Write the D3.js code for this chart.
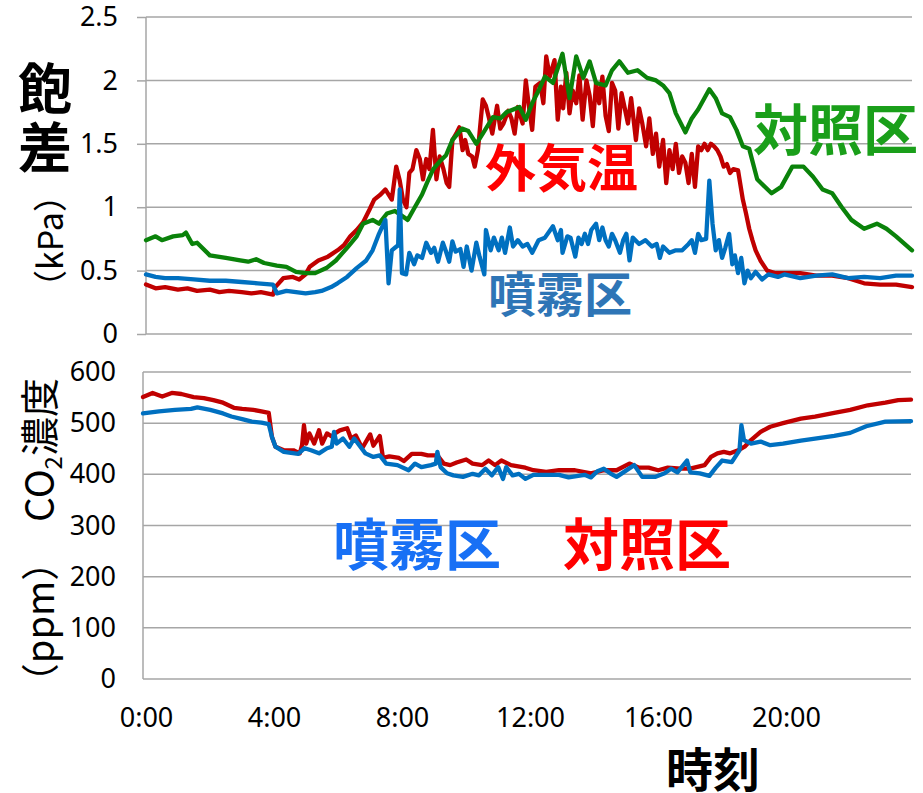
<!DOCTYPE html>
<html>
<head>
<meta charset="utf-8">
<script src="https://cdn.jsdelivr.net/npm/d3@7"></script>
<style>
  body { margin: 0; background: #fff; }
  svg { display: block; }
  .tick text { font-family: 'Noto Sans', sans-serif; fill: #000; }
  .jp { font-family: 'Noto Sans CJK JP', sans-serif; }
</style>
</head>
<body>
<svg id="chart" width="923" height="793"></svg>
<script>
// --- data (hours, value) ---
const xTickHours = [0, 4, 8, 12, 16, 20];
const vpdTicks = [0, 0.5, 1, 1.5, 2, 2.5];
const co2Ticks = [0, 100, 200, 300, 400, 500, 600];

// 対照区 (green) VPD
const vpdCtrlHours = [0, 0.3, 0.5, 0.85, 1.15, 1.25, 1.45, 1.6, 2.0, 2.5, 2.95, 3.2, 3.45, 3.7, 4.1, 4.4, 4.7, 5.0, 5.3, 5.65, 5.95, 6.3, 6.6, 6.8, 7.1, 7.3, 7.55, 7.8, 8.2, 8.4, 8.65, 8.8, 9.0, 9.2, 9.4, 9.6, 9.9, 10.1, 10.35, 10.6, 10.87, 11.1, 11.3, 11.7, 11.9, 12.1, 12.3, 12.5, 12.75, 13.05, 13.27, 13.48, 13.7, 13.9, 14.1, 14.4, 14.6, 14.83, 15.1, 15.4, 15.7, 15.98, 16.2, 16.4, 16.6, 16.9, 17.1, 17.3, 17.65, 17.85, 18.05, 18.3, 18.5, 18.7, 18.9, 19.15, 19.6, 19.9, 20.25, 20.6, 20.9, 21.2, 21.5, 21.8, 22.1, 22.5, 22.9, 23.2, 23.5, 24.0];
const vpdCtrl = [0.74, 0.77, 0.74, 0.77, 0.78, 0.80, 0.71, 0.72, 0.62, 0.60, 0.58, 0.57, 0.59, 0.56, 0.54, 0.53, 0.49, 0.48, 0.48, 0.52, 0.58, 0.68, 0.77, 0.87, 0.90, 0.87, 0.95, 0.97, 0.90, 0.99, 1.10, 1.19, 1.30, 1.36, 1.41, 1.53, 1.62, 1.60, 1.50, 1.60, 1.71, 1.70, 1.75, 1.79, 1.69, 1.82, 1.92, 2.03, 1.98, 2.21, 1.86, 2.19, 2.02, 2.15, 1.98, 1.96, 2.08, 2.15, 2.06, 2.08, 2.02, 2.00, 1.96, 1.90, 1.74, 1.59, 1.70, 1.77, 1.93, 1.86, 1.74, 1.71, 1.61, 1.48, 1.46, 1.22, 1.11, 1.16, 1.32, 1.32, 1.24, 1.14, 1.11, 1.00, 0.90, 0.83, 0.87, 0.83, 0.77, 0.66];

// 外気温 (red) VPD
const vpdOutHours = [0, 0.3, 0.6, 1.0, 1.3, 1.6, 2.0, 2.3, 2.6, 3.0, 3.3, 3.6, 3.98, 4.05, 4.3, 4.6, 4.8, 5.0, 5.13, 5.4, 5.7, 6.0, 6.2, 6.4, 6.6, 6.8, 7.0, 7.15, 7.35, 7.5, 7.7, 7.84, 7.95, 8.05, 8.16, 8.25, 8.35, 8.47, 8.58, 8.68, 8.78, 8.88, 8.99, 9.1, 9.2, 9.32, 9.42, 9.5, 9.6, 9.72, 9.82, 9.92, 10.0, 10.1, 10.22, 10.3, 10.4, 10.55, 10.65, 10.75, 10.85, 11.0, 11.1, 11.2, 11.35, 11.45, 11.55, 11.65, 11.8, 11.9, 12.0, 12.1, 12.2, 12.35, 12.45, 12.54, 12.65, 12.8, 12.9, 13.0, 13.07, 13.17, 13.27, 13.37, 13.48, 13.58, 13.68, 13.8, 13.9, 14.0, 14.1, 14.2, 14.3, 14.4, 14.5, 14.6, 14.7, 14.8, 14.9, 15.0, 15.1, 15.2, 15.35, 15.45, 15.55, 15.67, 15.77, 15.88, 15.98, 16.08, 16.2, 16.3, 16.4, 16.5, 16.6, 16.7, 16.8, 16.9, 17.0, 17.1, 17.2, 17.3, 17.4, 17.5, 17.6, 17.7, 17.8, 17.9, 18.0, 18.1, 18.2, 18.3, 18.4, 18.55, 18.7, 18.8, 18.9, 19.0, 19.1, 19.25, 19.46, 19.7, 20.0, 20.5, 21.0, 21.5, 22.0, 22.5, 23.0, 23.5, 24.0];
const vpdOut = [0.39, 0.36, 0.37, 0.35, 0.36, 0.34, 0.35, 0.33, 0.34, 0.33, 0.32, 0.33, 0.31, 0.37, 0.44, 0.45, 0.43, 0.47, 0.53, 0.58, 0.61, 0.66, 0.70, 0.77, 0.82, 0.88, 0.98, 1.06, 1.10, 1.14, 1.06, 1.32, 1.21, 1.06, 1.00, 1.27, 1.30, 1.45, 1.38, 1.22, 1.38, 1.30, 1.61, 1.22, 1.40, 1.30, 1.19, 1.16, 1.53, 1.58, 1.63, 1.45, 1.53, 1.42, 1.40, 1.32, 1.45, 1.85, 1.80, 1.70, 1.58, 1.80, 1.62, 1.66, 1.76, 1.70, 1.58, 1.79, 1.66, 2.00, 1.79, 1.61, 1.95, 1.98, 1.82, 2.19, 2.03, 2.16, 1.69, 1.95, 1.78, 2.06, 1.74, 1.92, 1.82, 2.04, 1.69, 2.00, 1.88, 1.64, 1.98, 1.82, 2.03, 1.72, 1.60, 1.98, 1.92, 1.62, 1.90, 1.78, 1.66, 1.86, 1.53, 1.78, 1.66, 1.48, 1.70, 1.42, 1.58, 1.32, 1.53, 1.19, 1.45, 1.30, 1.50, 1.27, 1.40, 1.35, 1.19, 1.42, 1.16, 1.48, 1.45, 1.50, 1.45, 1.50, 1.48, 1.45, 1.40, 1.32, 1.34, 1.27, 1.30, 1.29, 1.06, 0.95, 0.83, 0.74, 0.66, 0.58, 0.50, 0.48, 0.48, 0.48, 0.46, 0.46, 0.44, 0.40, 0.39, 0.39, 0.37];

// 噴霧区 (blue) VPD
const vpdMistHours = [0, 0.3, 0.6, 1.0, 1.5, 2.0, 2.5, 3.0, 3.5, 3.98, 4.1, 4.4, 4.7, 5.0, 5.3, 5.5, 5.8, 6.0, 6.3, 6.6, 6.9, 7.1, 7.3, 7.5, 7.6, 7.7, 7.8, 7.9, 7.95, 8.02, 8.15, 8.25, 8.4, 8.5, 8.65, 8.78, 8.93, 9.03, 9.15, 9.3, 9.4, 9.5, 9.6, 9.7, 9.85, 9.95, 10.05, 10.2, 10.35, 10.45, 10.6, 10.65, 10.8, 10.9, 11.05, 11.15, 11.25, 11.4, 11.5, 11.65, 11.8, 11.95, 12.1, 12.3, 12.5, 12.75, 12.9, 13.0, 13.05, 13.2, 13.3, 13.45, 13.55, 13.65, 13.75, 13.85, 13.95, 14.1, 14.2, 14.3, 14.4, 14.5, 14.6, 14.7, 14.85, 14.95, 15.05, 15.15, 15.25, 15.45, 15.65, 15.85, 16.0, 16.1, 16.2, 16.4, 16.6, 16.8, 17.0, 17.1, 17.2, 17.3, 17.4, 17.55, 17.65, 17.75, 17.85, 17.95, 18.05, 18.15, 18.27, 18.37, 18.45, 18.55, 18.65, 18.75, 18.85, 18.95, 19.1, 19.3, 19.5, 19.8, 20.0, 20.5, 21.0, 21.5, 22.0, 22.5, 23.0, 23.5, 24.0];
const vpdMist = [0.47, 0.45, 0.44, 0.44, 0.43, 0.42, 0.42, 0.41, 0.40, 0.39, 0.32, 0.34, 0.33, 0.32, 0.33, 0.34, 0.37, 0.40, 0.45, 0.52, 0.58, 0.66, 0.79, 0.90, 0.40, 0.66, 0.68, 0.70, 1.14, 0.48, 0.47, 0.64, 0.55, 0.62, 0.60, 0.72, 0.64, 0.68, 0.57, 0.72, 0.65, 0.57, 0.73, 0.65, 0.67, 0.53, 0.69, 0.50, 0.72, 0.61, 0.47, 0.82, 0.66, 0.76, 0.66, 0.76, 0.64, 0.84, 0.69, 0.74, 0.69, 0.71, 0.64, 0.74, 0.76, 0.85, 0.74, 0.82, 0.64, 0.77, 0.76, 0.61, 0.76, 0.71, 0.79, 0.71, 0.82, 0.87, 0.74, 0.84, 0.74, 0.69, 0.79, 0.74, 0.64, 0.74, 0.79, 0.58, 0.76, 0.71, 0.74, 0.69, 0.71, 0.60, 0.69, 0.64, 0.66, 0.66, 0.71, 0.74, 0.64, 0.79, 0.74, 0.75, 1.21, 0.87, 0.66, 0.74, 0.60, 0.68, 0.79, 0.55, 0.62, 0.48, 0.60, 0.40, 0.50, 0.44, 0.49, 0.43, 0.47, 0.45, 0.47, 0.44, 0.46, 0.47, 0.44, 0.45, 0.44, 0.46, 0.46];

// CO2 対照区 (red)
const co2CtrlHours = [0, 0.3, 0.6, 0.9, 1.2, 1.58, 1.9, 2.2, 2.5, 2.84, 3.1, 3.45, 3.7, 3.93, 4.03, 4.14, 4.4, 4.7, 4.9, 4.97, 5.03, 5.1, 5.2, 5.35, 5.5, 5.6, 5.75, 5.9, 6.0, 6.15, 6.38, 6.5, 6.65, 6.85, 7.1, 7.2, 7.4, 7.5, 7.7, 8.0, 8.15, 8.4, 8.7, 8.9, 9.2, 9.4, 9.6, 9.8, 10.1, 10.3, 10.6, 10.8, 11.0, 11.2, 11.5, 11.95, 12.2, 12.6, 13.0, 13.5, 14.0, 14.4, 14.8, 15.2, 15.5, 15.8, 16.1, 16.4, 16.8, 17.1, 17.55, 17.75, 17.95, 18.15, 18.35, 18.6, 18.8, 19.0, 19.3, 19.6, 20.0, 20.56, 21.0, 21.6, 22.1, 22.65, 23.2, 23.6, 24.0];
const co2Ctrl = [551, 559, 552, 559, 557, 551, 549, 545, 540, 530, 528, 526, 523, 520, 473, 454, 447, 447, 441, 457, 496, 460, 480, 460, 486, 460, 480, 474, 480, 486, 490, 470, 476, 451, 478, 456, 475, 432, 435, 432, 426, 440, 440, 437, 437, 421, 418, 423, 429, 421, 418, 427, 418, 427, 418, 413, 408, 405, 408, 408, 402, 408, 408, 421, 413, 413, 408, 413, 411, 411, 418, 434, 441, 444, 441, 447, 454, 467, 483, 493, 500, 509, 513, 520, 526, 535, 540, 545, 546];

// CO2 噴霧区 (blue)
const co2MistHours = [0, 0.5, 1.0, 1.5, 1.7, 2.1, 2.5, 2.76, 3.1, 3.4, 3.7, 3.93, 4.03, 4.14, 4.4, 4.85, 5.05, 5.25, 5.5, 5.75, 5.9, 5.97, 6.05, 6.25, 6.45, 6.6, 6.95, 7.2, 7.4, 7.6, 7.95, 8.3, 8.5, 8.7, 9.0, 9.15, 9.2, 9.3, 9.5, 9.7, 10.0, 10.3, 10.5, 10.7, 10.9, 11.1, 11.25, 11.35, 11.55, 11.75, 11.95, 12.2, 12.7, 13.0, 13.3, 13.8, 14.0, 14.2, 14.4, 14.6, 14.8, 15.35, 15.6, 16.0, 16.3, 16.5, 16.7, 17.0, 17.1, 17.4, 17.7, 17.9, 18.1, 18.4, 18.64, 18.7, 18.78, 19.0, 19.3, 19.6, 20.0, 20.56, 21.0, 21.6, 22.1, 22.6, 23.2, 24.0];
const co2Mist = [519, 523, 526, 528, 531, 526, 519, 513, 508, 503, 501, 498, 473, 454, 444, 440, 451, 447, 441, 451, 454, 483, 460, 470, 454, 470, 441, 434, 437, 421, 418, 408, 421, 414, 418, 421, 444, 414, 402, 398, 395, 401, 398, 411, 398, 414, 391, 414, 398, 401, 391, 399, 399, 399, 394, 399, 394, 406, 411, 402, 395, 418, 395, 395, 402, 411, 404, 427, 404, 402, 397, 413, 427, 424, 447, 496, 467, 460, 464, 457, 460, 466, 470, 475, 481, 494, 503, 504];

const colRed = '#c00000', colGreen = '#0a820a', colBlue = '#0070c0';
const gridCol = '#a6a6a6';

const svg = d3.select('#chart');

// zip hours + values into point rows
const zip = (hs, vs) => hs.map((h, i) => ({ h: h, v: vs[i] }));

const drawPanel = (opt) => {
  const x = d3.scaleLinear().domain([0, 24]).range([opt.left, opt.right]);
  const y = d3.scaleLinear().domain(opt.domain).range([opt.bottom, opt.top]);

  // gridlines
  svg.append('g').selectAll('line').data(opt.ticks)
    .enter().append('line')
      .attr('x1', opt.left).attr('x2', opt.right)
      .attr('y1', d => y(d)).attr('y2', d => y(d))
      .attr('stroke', gridCol).attr('stroke-width', 1.5);

  // y axis (labels + optional outer ticks)
  const yAxisG = svg.append('g')
    .attr('transform', `translate(${opt.left},0)`)
    .call(d3.axisLeft(y).tickValues(opt.ticks).tickSize(opt.tickSize)
      .tickPadding(opt.tickPad).tickFormat(opt.fmt));
  yAxisG.selectAll('.tick line').attr('stroke', gridCol).attr('stroke-width', 1.5);
  yAxisG.select('.domain').remove();
  yAxisG.selectAll('text').style('font-size', '27px');

  svg.append('line')
    .attr('x1', opt.left).attr('x2', opt.left)
    .attr('y1', opt.top).attr('y2', opt.bottom)
    .attr('stroke', gridCol).attr('stroke-width', 1.5);

  const line = d3.line().x(d => x(d.h)).y(d => y(d.v));
  opt.series.forEach(s => {
    svg.append('path')
      .datum(zip(s.hours, s.vals))
      .attr('fill', 'none')
      .attr('stroke', s.color)
      .attr('stroke-width', 4.3)
      .attr('stroke-linejoin', 'round')
      .attr('stroke-linecap', 'round')
      .attr('d', line);
  });
  return x;
};

// top panel: 飽差
drawPanel({
  left: 146, right: 912, top: 17, bottom: 334,
  domain: [0, 2.5], ticks: vpdTicks, tickSize: 9, tickPad: 19,
  fmt: d => d3.format('')(d),
  series: [
    { hours: vpdOutHours, vals: vpdOut, color: colRed },
    { hours: vpdCtrlHours, vals: vpdCtrl, color: colGreen },
    { hours: vpdMistHours, vals: vpdMist, color: colBlue }
  ]
});

// bottom panel: CO2
const xBottom = drawPanel({
  left: 143, right: 911, top: 372, bottom: 679,
  domain: [0, 600], ticks: co2Ticks, tickSize: 0, tickPad: 27,
  fmt: d => d,
  series: [
    { hours: co2CtrlHours, vals: co2Ctrl, color: colRed },
    { hours: co2MistHours, vals: co2Mist, color: colBlue }
  ]
});

// x axis labels (no line / ticks)
const xAxisG = svg.append('g')
  .attr('transform', 'translate(3,679)')
  .call(d3.axisBottom(xBottom).tickValues(xTickHours).tickSize(0).tickPadding(29)
    .tickFormat(h => h + ':00'));
xAxisG.select('.domain').remove();
xAxisG.selectAll('text').style('font-size', '27px');

// axis titles
const t = (x, y, txt, size, weight, color, anchor) => svg.append('text')
  .attr('class', 'jp')
  .attr('x', x).attr('y', y)
  .attr('font-size', size).attr('font-weight', weight)
  .attr('fill', color).attr('text-anchor', anchor || 'start')
  .text(txt);

t(45, 109, '飽', 54, 'bold', '#000', 'middle');
t(45, 168, '差', 54, 'bold', '#000', 'middle');

svg.append('text').attr('class', 'jp')
  .attr('transform', 'translate(63,241) rotate(-90)')
  .attr('text-anchor', 'middle').attr('font-size', 34)
  .text('（kPa）');

const co2Label = svg.append('text').attr('class', 'jp')
  .attr('transform', 'translate(54,450) rotate(-90)')
  .attr('text-anchor', 'middle').attr('font-size', 39);
co2Label.append('tspan').text('CO');
co2Label.append('tspan').attr('font-size', 24).attr('dy', 8).text('2');
co2Label.append('tspan').attr('dy', -8).text('濃度');

svg.append('text').attr('class', 'jp')
  .attr('transform', 'translate(54,622) rotate(-90)')
  .attr('text-anchor', 'middle').attr('font-size', 38)
  .text('（ppm）');

t(666, 787, '時刻', 47, 'bold', '#000');

// in-plot series labels
t(753, 150, '対照区', 55, 'bold', '#1a9f1a');
t(485, 187, '外気温', 51, 'bold', '#ff0000');
t(488, 312, '噴霧区', 48, 'bold', '#2e75b6');
t(333, 565, '噴霧区', 56, 'bold', '#1870f5');
t(563, 565, '対照区', 56, 'bold', '#ff0000');
</script>
</body>
</html>
